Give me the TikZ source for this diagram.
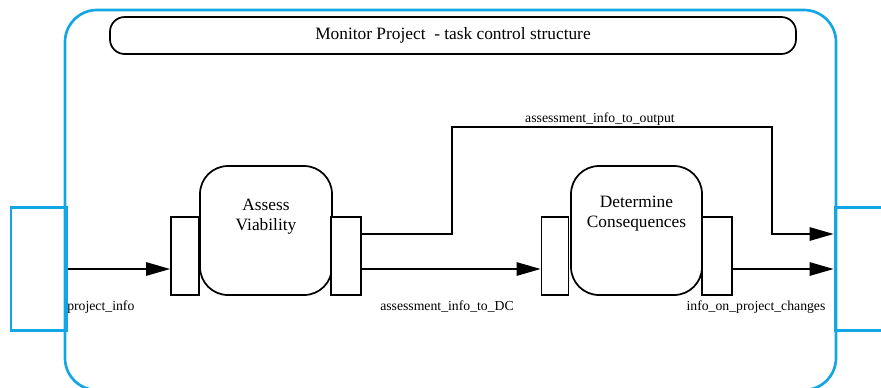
\documentclass[tikz,border=0pt]{standalone}
\usepackage{fontspec}
\setmainfont{Liberation Serif}
\usetikzlibrary{arrows.meta,positioning}
\definecolor{edgeblue}{RGB}{18,166,228}

\begin{document}
\begin{tikzpicture}[x=0.75pt,y=0.75pt,yscale=-1,xscale=1,
  frame/.style={draw=edgeblue,line width=2pt},
  iobox/.style={draw=edgeblue,line width=2pt,minimum width=42pt,minimum height=92.25pt,inner sep=0pt},
  task/.style={draw,line width=1.3pt,rounded corners=21pt,minimum width=99pt,minimum height=96.75pt,inner sep=0pt},
  port/.style={draw,line width=1.3pt,fill=white,minimum width=21pt,minimum height=58.5pt,inner sep=0pt},
  tasktext/.style={align=center,font=\fontsize{13}{15}\selectfont,inner sep=0.75pt,anchor=north},
  lbl/.style={font=\fontsize{10.3}{12}\selectfont,inner sep=0.75pt},
  flow/.style={line width=1.3pt,-{Triangle[length=18pt,width=10pt]}}]
\useasboundingbox (0,0) rectangle (881,387);

% Frame
\draw[frame,rounded corners=24pt] (65,10) rectangle (836,390);
% Title
\node[draw,line width=1.3pt,rounded corners=11pt,minimum width=514.5pt,minimum height=27.75pt,inner sep=0pt,font=\fontsize{13}{15}\selectfont] (title) at (453,35.5) {Monitor Project\ \ - task control structure};

% Boundary ports
\node[iobox] (inL) at (39,269) {};
\node[iobox] (outR) at (863,269) {};

% Assess Viability
\node[task] (av) at (266,230.5) {};
\node[tasktext,below=24.5pt of av.north] (avtext) {Assess\\Viability};
\node[port] (avL) at (185,256) {};
\node[port,minimum width=22.5pt] (avR) at (346,256) {};

% Determine Consequences
\node[task,minimum width=98.25pt] (dc) at (636.5,230.5) {};
\node[tasktext,below=22.5pt of dc.north] (dctext) {Determine\\Consequences};
\node[port,minimum width=20.25pt] (dcL) at (555,256) {};
\node[port,minimum width=22.5pt] (dcR) at (717,256) {};

% Connection
\coordinate (up1) at (452,127);
\coordinate (up2) at (772,127);
\draw[flow] (inL.east) -- (avL.west |- inL.east);
\draw[flow] (avR.east |- inL.east) -- (dcL.west |- inL.east);
\draw[flow] (dcR.east |- inL.east) -- (outR.west);
\draw[flow] ([yshift=-16.5pt]avR.east) -| (up1) -- node[lbl,above,xshift=-9pt] (aout) {assessment\_info\_to\_output} (up2) |- ([yshift=-26.25pt]outR.west);

% Text Node
\node[lbl,anchor=west] (pinfo) at (66,307) {project\_info};
\node[lbl] (adc) at (447,307) {assessment\_info\_to\_DC};
\node[lbl] (ichg) at (756,307) {info\_on\_project\_changes};

\end{tikzpicture}
\end{document}
